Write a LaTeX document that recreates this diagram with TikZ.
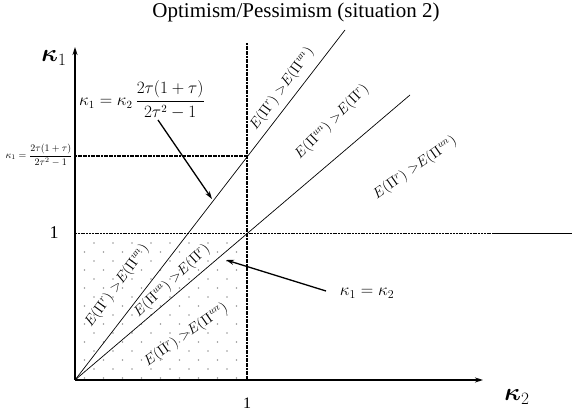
\documentclass[tikz,border=0pt]{standalone}
\usepackage{amsmath}
\usepackage{fontspec}
\setmainfont{Liberation Serif}
\usetikzlibrary{arrows.meta}
\begin{document}
\begin{tikzpicture}[x=1pt,y=-1pt,
  axisline/.style={line width=1.3pt,-{Stealth[length=8pt,width=5pt]}},
  thinline/.style={line width=0.7pt},
  dotline/.style={line width=1.4pt,dash pattern=on 2pt off 0.6pt},
  dashline/.style={line width=0.9pt,dash pattern=on 2pt off 0.8pt},
  pointer/.style={line width=1.3pt,-{Stealth[length=8pt,width=5pt]}},
  region/.style={inner sep=0pt,font=\fontsize{14}{16}\selectfont},
  dotc/.style={fill=black!40}]
\useasboundingbox (0,0) rectangle (579,414);

% dotted fill of the unit box
\foreach \k in {0,...,15}{%
  \pgfmathsetmacro\yy{243+9*\k}%
  \pgfmathsetmacro\xo{mod(\k,2)==0 ? 94 : 84.5}%
  \foreach \j in {0,...,8}{%
    \pgfmathsetmacro\xx{\xo+19*\j}%
    \ifdim\xx pt<246pt \fill[dotc] (\xx,\yy) circle (0.9pt);\fi
  }%
}

% coordinates
\coordinate (O) at (75,380);
\coordinate (ytop) at (75,47);
\coordinate (xend) at (483,380);
\coordinate (vtop) at (247,43);
\coordinate (vbot) at (247,380);
\coordinate (hkL) at (75,156);
\coordinate (hkR) at (247,156);
\coordinate (h1L) at (75,233);
\coordinate (h1M) at (493,233);
\coordinate (h1R) at (572,233);
\coordinate (steepEnd) at (345,30);
\coordinate (diagEnd) at (410,95);

% reference lines
\draw[dotline] (vtop) -- (vbot);
\draw[dotline] (hkL) -- (hkR);
\draw[dashline] (h1L) -- (h1M);
\draw[thinline] (h1M) -- (h1R);

% rays
\draw[thinline] (O) -- (steepEnd);
\draw[thinline] (O) -- (diagEnd);

% axes
\draw[axisline] (O) -- (ytop);
\draw[axisline] (O) -- (xend);

% title and axis labels
\node (title) at (296,12) {\fontsize{21}{24}\selectfont Optimism/Pessimism (situation 2)};
\node (k1lab) at (54,58) {\fontsize{24}{26}\selectfont $\boldsymbol{\kappa}_1$};
\node (k2lab) at (517,397) {\fontsize{24}{26}\selectfont $\boldsymbol{\kappa}_2$};
\node (oney) at (54,233) {\fontsize{18}{20}\selectfont 1};
\node (onex) at (247,403) {\fontsize{16}{18}\selectfont 1};
\node (kval) at (39,155) {\fontsize{10}{12}\selectfont $\kappa_1=\dfrac{2\tau(1+\tau)}{2\tau^2-1}$};

% formula labels with pointers
\node (steepf) at (142,100) {\fontsize{16}{18}\selectfont $\kappa_1=\kappa_2\,\dfrac{2\tau(1+\tau)}{2\tau^2-1}$};
\node (diagf) at (367,293) {\fontsize{17}{19}\selectfont $\kappa_1=\kappa_2$};
\coordinate (sA) at (158,120);
\coordinate (sB) at (212,199);
\coordinate (dA) at (326,291);
\coordinate (dB) at (226,260);
\draw[pointer] (sA) -- (sB);
\draw[pointer] (dA) -- (dB);

% region labels
\node[region,rotate=54] (r1) at (282,89) {$E(\Pi^{r})\;{>}E(\Pi^{un})$};
\node[region,rotate=45] (r2) at (332,122) {$E(\Pi^{un})\;{>}E(\Pi^{r})$};
\node[region,rotate=35] (r3) at (415,168) {$E(\Pi^{r})\;{>}E(\Pi^{un})$};
\node[region,rotate=54] (r4) at (117,286) {$E(\Pi^{r})\;{>}E(\Pi^{un})$};
\node[region,rotate=43] (r5) at (172,281) {$E(\Pi^{un})\;{>}E(\Pi^{r})$};
\node[region,rotate=35] (r6) at (186,335) {$E(\Pi^{r})\;{>}E(\Pi^{un})$};
\end{tikzpicture}
\end{document}
